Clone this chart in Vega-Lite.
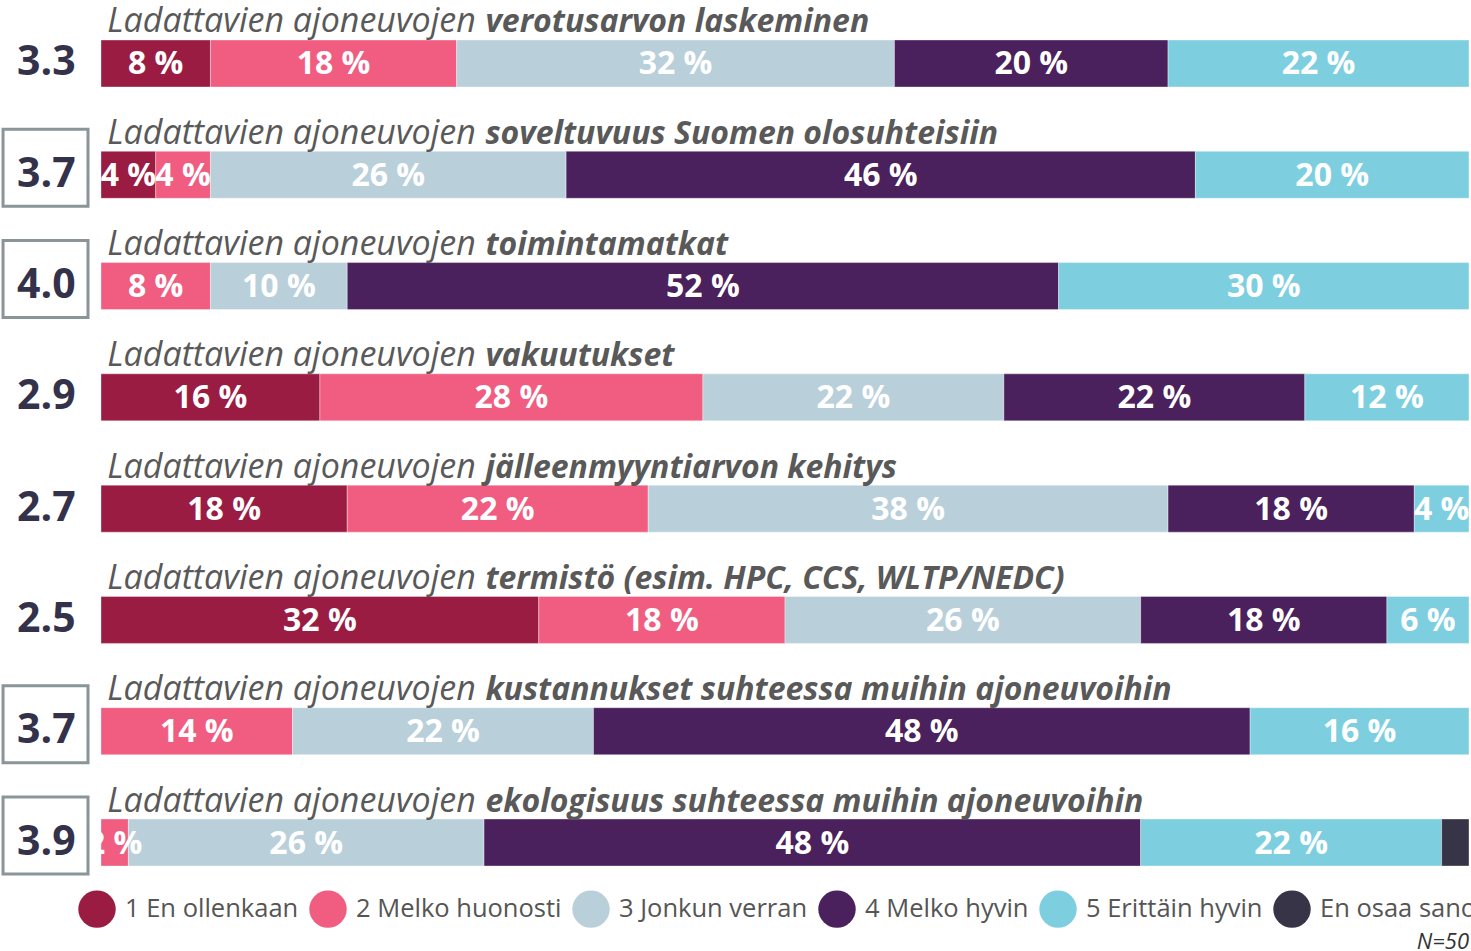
{
  "$schema": "https://vega.github.io/schema/vega-lite/v6.json",
  "width": 1471,
  "height": 951,
  "padding": 0,
  "autosize": {"type": "none"},
  "background": "white",
  "config": {"view": {"stroke": null}, "font": "Open Sans"},
  "title": {
    "text": "N=50",
    "orient": "bottom",
    "anchor": "end",
    "frame": "group",
    "offset": -19,
    "fontSize": 22,
    "fontStyle": "italic",
    "fontWeight": "normal",
    "font": "Open Sans",
    "color": "#333333",
    "baseline": "top",
    "dx": -2
  },
  "datasets": {
    "seg": [
      {"i": 1, "cat": "1 En ollenkaan", "k": 1, "pct": 8},
      {"i": 1, "cat": "2 Melko huonosti", "k": 2, "pct": 18},
      {"i": 1, "cat": "3 Jonkun verran", "k": 3, "pct": 32},
      {"i": 1, "cat": "4 Melko hyvin", "k": 4, "pct": 20},
      {"i": 1, "cat": "5 Erittäin hyvin", "k": 5, "pct": 22},
      {"i": 2, "cat": "1 En ollenkaan", "k": 1, "pct": 4},
      {"i": 2, "cat": "2 Melko huonosti", "k": 2, "pct": 4},
      {"i": 2, "cat": "3 Jonkun verran", "k": 3, "pct": 26},
      {"i": 2, "cat": "4 Melko hyvin", "k": 4, "pct": 46},
      {"i": 2, "cat": "5 Erittäin hyvin", "k": 5, "pct": 20},
      {"i": 3, "cat": "2 Melko huonosti", "k": 2, "pct": 8},
      {"i": 3, "cat": "3 Jonkun verran", "k": 3, "pct": 10},
      {"i": 3, "cat": "4 Melko hyvin", "k": 4, "pct": 52},
      {"i": 3, "cat": "5 Erittäin hyvin", "k": 5, "pct": 30},
      {"i": 4, "cat": "1 En ollenkaan", "k": 1, "pct": 16},
      {"i": 4, "cat": "2 Melko huonosti", "k": 2, "pct": 28},
      {"i": 4, "cat": "3 Jonkun verran", "k": 3, "pct": 22},
      {"i": 4, "cat": "4 Melko hyvin", "k": 4, "pct": 22},
      {"i": 4, "cat": "5 Erittäin hyvin", "k": 5, "pct": 12},
      {"i": 5, "cat": "1 En ollenkaan", "k": 1, "pct": 18},
      {"i": 5, "cat": "2 Melko huonosti", "k": 2, "pct": 22},
      {"i": 5, "cat": "3 Jonkun verran", "k": 3, "pct": 38},
      {"i": 5, "cat": "4 Melko hyvin", "k": 4, "pct": 18},
      {"i": 5, "cat": "5 Erittäin hyvin", "k": 5, "pct": 4},
      {"i": 6, "cat": "1 En ollenkaan", "k": 1, "pct": 32},
      {"i": 6, "cat": "2 Melko huonosti", "k": 2, "pct": 18},
      {"i": 6, "cat": "3 Jonkun verran", "k": 3, "pct": 26},
      {"i": 6, "cat": "4 Melko hyvin", "k": 4, "pct": 18},
      {"i": 6, "cat": "5 Erittäin hyvin", "k": 5, "pct": 6},
      {"i": 7, "cat": "2 Melko huonosti", "k": 2, "pct": 14},
      {"i": 7, "cat": "3 Jonkun verran", "k": 3, "pct": 22},
      {"i": 7, "cat": "4 Melko hyvin", "k": 4, "pct": 48},
      {"i": 7, "cat": "5 Erittäin hyvin", "k": 5, "pct": 16},
      {"i": 8, "cat": "2 Melko huonosti", "k": 2, "pct": 2},
      {"i": 8, "cat": "3 Jonkun verran", "k": 3, "pct": 26},
      {"i": 8, "cat": "4 Melko hyvin", "k": 4, "pct": 48},
      {"i": 8, "cat": "5 Erittäin hyvin", "k": 5, "pct": 22},
      {"i": 8, "cat": "En osaa sanoa", "k": 6, "pct": 2}
    ],
    "items": [
      {"i": 1, "a": "Ladattavien ajoneuvojen", "b": "verotusarvon laskeminen", "score": 3.3, "boxed": false},
      {"i": 2, "a": "Ladattavien ajoneuvojen", "b": "soveltuvuus Suomen olosuhteisiin", "score": 3.7, "boxed": true},
      {"i": 3, "a": "Ladattavien ajoneuvojen", "b": "toimintamatkat", "score": 4.0, "boxed": true},
      {"i": 4, "a": "Ladattavien ajoneuvojen", "b": "vakuutukset", "score": 2.9, "boxed": false},
      {"i": 5, "a": "Ladattavien ajoneuvojen", "b": "jälleenmyyntiarvon kehitys", "score": 2.7, "boxed": false},
      {"i": 6, "a": "Ladattavien ajoneuvojen", "b": "termistö (esim. HPC, CCS, WLTP/NEDC)", "score": 2.5, "boxed": false},
      {"i": 7, "a": "Ladattavien ajoneuvojen", "b": "kustannukset suhteessa muihin ajoneuvoihin", "score": 3.7, "boxed": true},
      {"i": 8, "a": "Ladattavien ajoneuvojen", "b": "ekologisuus suhteessa muihin ajoneuvoihin", "score": 3.9, "boxed": true}
    ]
  },
  "encoding": {
    "y": {
      "field": "i",
      "type": "ordinal",
      "axis": null,
      "scale": {"type": "band", "range": [40, 866], "paddingInner": 0.5777, "paddingOuter": 0}
    }
  },
  "layer": [
    {
      "data": {"name": "seg"},
      "mark": {"type": "bar", "stroke": "white", "strokeWidth": 0.6, "strokeOpacity": 0.6},
      "encoding": {
        "x": {
          "field": "pct",
          "type": "quantitative",
          "stack": "zero",
          "axis": null,
          "scale": {"domain": [-7.383, 100.146], "nice": false, "zero": false}
        },
        "color": {
          "field": "cat",
          "type": "nominal",
          "scale": {
            "domain": ["1 En ollenkaan", "2 Melko huonosti", "3 Jonkun verran", "4 Melko hyvin", "5 Erittäin hyvin", "En osaa sanoa"],
            "range": ["#9b1c42", "#f05d80", "#b9d0db", "#4a215c", "#7dcfe0", "#373447"]
          },
          "legend": {
            "orient": "none",
            "legendX": 78,
            "legendY": 890,
            "direction": "horizontal",
            "symbolType": "circle",
            "symbolSize": 1400,
            "symbolStrokeWidth": 0,
            "symbolOpacity": 1,
            "labelFontSize": 25.5,
            "labelColor": "#555555",
            "labelFont": "Open Sans",
            "labelLimit": 400,
            "labelOffset": 9,
            "columnPadding": 10,
            "title": null
          }
        },
        "order": {"field": "k", "type": "quantitative"}
      }
    },
    {
      "data": {"name": "seg"},
      "transform": [
        {"filter": "datum.k < 6"},
        {"calculate": "datum.pct + ' %'", "as": "lbl"}
      ],
      "mark": {"type": "text", "color": "white", "fontSize": 32, "fontWeight": "bold", "font": "Open Sans", "baseline": "middle", "dy": 1},
      "encoding": {
        "x": {"field": "pct", "type": "quantitative", "stack": "zero", "bandPosition": 0.5},
        "order": {"field": "k", "type": "quantitative"},
        "text": {"field": "lbl"}
      }
    },
    {
      "data": {"name": "items"},
      "mark": {"type": "text", "align": "right", "baseline": "alphabetic", "dy": -31, "fontSize": 34, "fontStyle": "italic", "color": "#595959", "font": "Open Sans"},
      "encoding": {
        "x": {"datum": 27.4},
        "text": {"field": "a"}
      }
    },
    {
      "data": {"name": "items"},
      "mark": {"type": "text", "align": "left", "baseline": "alphabetic", "dy": -31, "fontSize": 32, "fontStyle": "italic", "fontWeight": "bold", "color": "#595959", "font": "Open Sans"},
      "encoding": {
        "x": {"datum": 28.1},
        "text": {"field": "b"}
      }
    },
    {
      "data": {"name": "items"},
      "transform": [{"filter": "datum.boxed"}],
      "mark": {"type": "rect", "height": 77, "yOffset": -7, "fill": "white", "stroke": "#8a9499", "strokeWidth": 3},
      "encoding": {
        "x": {"datum": -7.16},
        "x2": {"datum": -0.95}
      }
    },
    {
      "data": {"name": "items"},
      "mark": {"type": "text", "align": "center", "baseline": "middle", "fontSize": 41, "fontWeight": "bold", "color": "#34324a", "font": "Open Sans", "dy": 0},
      "encoding": {
        "x": {"datum": -4.0},
        "text": {"field": "score", "type": "quantitative", "format": ".1f"}
      }
    }
  ]
}
